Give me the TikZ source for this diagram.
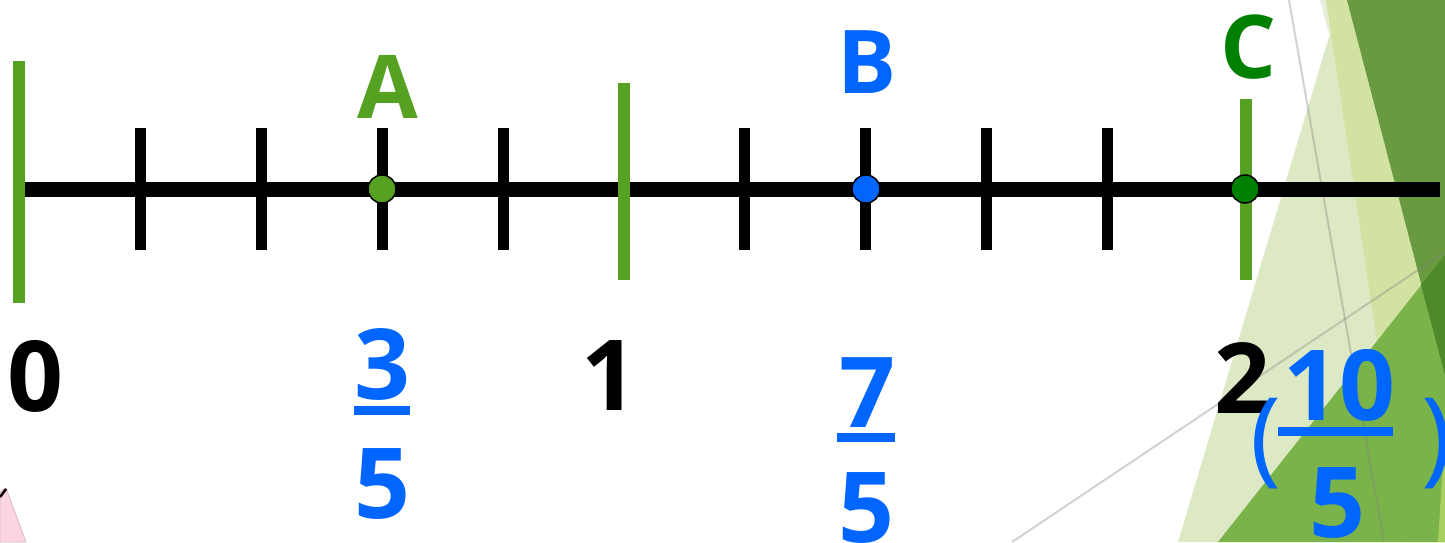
\documentclass[tikz,border=0pt]{standalone}
\usepackage{fontspec}
\setmainfont{Open Sans}
\definecolor{lgreen}{RGB}{86,160,34}
\definecolor{cgreen}{RGB}{0,128,0}
\definecolor{bblue}{RGB}{0,102,255}
\definecolor{bgL}{RGB}{221,233,196}
\definecolor{bgV}{RGB}{230,238,216}
\definecolor{bgS}{RGB}{209,226,162}
\definecolor{bgD}{RGB}{106,154,64}
\definecolor{bgDD}{RGB}{79,138,42}
\definecolor{bgM}{RGB}{122,179,74}
\definecolor{bgLL}{RGB}{168,208,96}
\definecolor{pinkish}{RGB}{253,213,224}
\tikzset{
  digit/.style={font=\fontsize{98}{98}\selectfont\bfseries, inner sep=0pt, anchor=base},
  letter/.style={font=\fontsize{88}{88}\selectfont\bfseries, inner sep=0pt, anchor=base},
  paren/.style={font=\fontsize{104}{104}\selectfont, inner sep=0pt, text=bblue},
  bigtick/.style={draw=lgreen, line width=12pt},
  smalltick/.style={draw=black, line width=11pt},
  fracbar/.style={draw=bblue, line width=9pt},
  pointdot/.style={circle, draw=black, line width=1.5pt, minimum size=28pt, inner sep=0pt},
  bgline/.style={draw=gray, line width=2pt, opacity=0.35}
}
\begin{document}
\begin{tikzpicture}[x=1pt,y=-1pt]
\useasboundingbox (0,0) rectangle (1445,542);
\fill[white] (0,0) rectangle (1445,542);
% background facets
\fill[bgL] (1340,0) -- (1178,542) -- (1445,542) -- (1445,0) -- cycle;
\fill[bgV] (1320,0) -- (1340,0) -- (1329,34) -- cycle;
\fill[bgS] (1326,0) -- (1347,0) -- (1445,375) -- (1445,542) -- (1407,542) -- cycle;
\fill[bgD] (1347,0) -- (1445,0) -- (1445,375) -- cycle;
\fill[bgM] (1218,542) -- (1445,255) -- (1445,542) -- cycle;
\fill[bgDD] (1421,285) -- (1445,255) -- (1445,375) -- cycle;
\fill[bgLL] (1438,542) -- (1445,430) -- (1445,542) -- cycle;
\coordinate (g1a) at (1289,0);
\coordinate (g1b) at (1384,542);
\coordinate (g2a) at (1012,542);
\coordinate (g2b) at (1445,252);
\draw[bgline] (g1a) -- (g1b);
\draw[bgline] (g2a) -- (g2b);
% pink clip-art corner
\fill[pinkish, draw=pinkish!70!gray, line width=0.8pt] (0,492) -- (6,488) -- (26,542) -- (0,542) -- cycle;
\draw[black, line width=2.5pt] (0,497) -- (6,489);
% number line
\coordinate (L) at (25,189);
\coordinate (R) at (1440,189);
\draw[line width=15pt] (L) -- (R);
% big ticks
\draw[bigtick] (19,61) -- (19,303);
\draw[bigtick] (624,83) -- (624,280);
\draw[bigtick] (1246,99) -- (1246,280);
% small ticks
\foreach \x in {140,261,382,503,744,865,986,1107}
  \draw[smalltick] (\x,128) -- (\x,250);
% points
\node[pointdot, fill=lgreen] (pA) at (382,189) {};
\node[pointdot, fill=bblue] (pB) at (866,189) {};
\node[pointdot, fill=cgreen] (pC) at (1245,189) {};
% letters
\node[letter, text=lgreen] (A) at (388,118) {A};
\node[letter, text=bblue] (B) at (867,93) {B};
\node[letter, text=cgreen] (C) at (1249,78) {C};
% integers
\node[digit] (n0) at (35,411) {0};
\node[digit] (n1) at (609,410) {1};
\node[digit] (n2) at (1242,413) {2};
% fraction 3/5
\node[digit, text=bblue] (f3n) at (382,399) {3};
\draw[fracbar] (354,410) -- (410,410);
\node[digit, text=bblue] (f3d) at (382,518) {5};
% fraction 7/5
\node[digit, text=bblue] (f7n) at (867,427) {7};
\draw[fracbar] (837,437) -- (895,437);
\node[digit, text=bblue] (f7d) at (866,542) {5};
% fraction 10/5 in parentheses
\node[paren] (pl) at (1266,444) {(};
\node[digit, text=bblue] (f10n) at (1339,420) {10};
\draw[fracbar] (1278,431) -- (1393,431);
\node[digit, text=bblue] (f10d) at (1337,537) {5};
\node[paren] (pr) at (1437,444) {)};
\end{tikzpicture}
\end{document}
